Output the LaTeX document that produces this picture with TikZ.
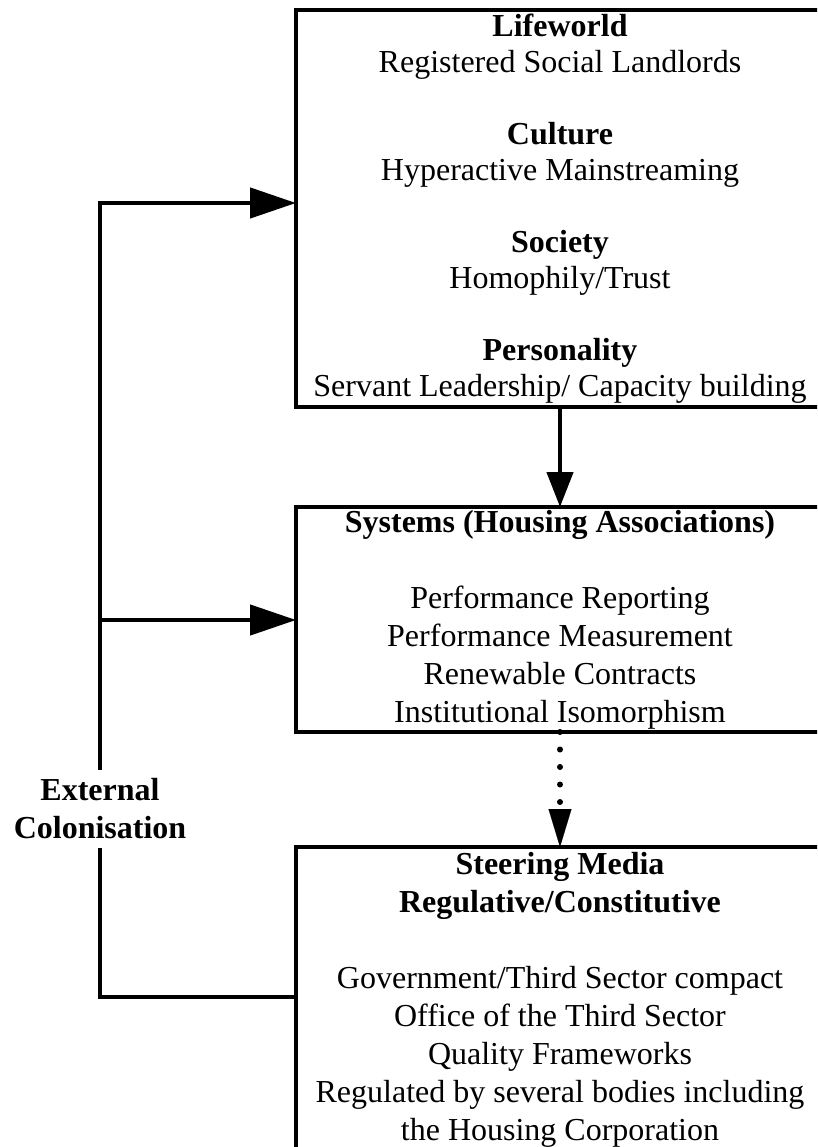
\documentclass[tikz,border=0pt]{standalone}
\usepackage{fontspec}
\setmainfont{Liberation Serif}
\usetikzlibrary{arrows.meta,positioning}

\begin{document}
\begin{tikzpicture}[x=1pt,y=1pt,yscale=-1,
  box/.style={draw, line width=4.5pt, rectangle, minimum width=528pt, align=center, inner sep=0pt, outer sep=0pt},
  link/.style={line width=4.5pt},
  sidetip/.style={-{Triangle[length=46pt,width=30pt]}},
  downtip/.style={-{Triangle[length=35pt,width=26pt]}}]
  %set diagram frame to 817 x 1147
  \useasboundingbox (0,0) rectangle (817,1147);
  \clip (0,0) rectangle (817,1147);

  %Box: Lifeworld
  \node [box, minimum height=397pt, font=\fontsize{32}{36}\selectfont] (lifeworld) at (560,208.5)
    {\textbf{Lifeworld}\\Registered Social Landlords\\[36pt]
     \textbf{Culture}\\Hyperactive Mainstreaming\\[36pt]
     \textbf{Society}\\Homophily/Trust\\[36pt]
     \textbf{Personality}\\Servant Leadership/ Capacity building};
  %Box: Systems
  \node [box, minimum height=225pt, font=\fontsize{32}{38}\selectfont] (systems) at (560,619.5)
    {\textbf{Systems (Housing Associations)}\\[38pt]
     Performance Reporting\\Performance Measurement\\Renewable Contracts\\Institutional Isomorphism};
  %Box: Steering Media
  \node [box, minimum height=305pt, font=\fontsize{32}{38}\selectfont] (steering) at (560,999.5)
    {\textbf{Steering Media}\\\textbf{Regulative/Constitutive}\\[38pt]
     Government/Third Sector compact\\Office of the Third Sector\\Quality Frameworks\\
     Regulated by several bodies including\\the Housing Corporation};

  % Text Node
  \node [font=\bfseries\fontsize{32}{38}\selectfont, align=center, minimum height=78pt, inner sep=0pt] (colon) at (100,809)
    {External\\Colonisation};

  \coordinate (topturn) at (100,203);
  \coordinate (midturn) at (100,620);
  \coordinate (botturn) at (100,997);

  %Straight Lines
  \draw [link, sidetip] (colon.north) -- (topturn) -- (topturn -| lifeworld.west);
  \draw [link, sidetip] (midturn) -- (midturn -| systems.west);
  \draw [link] (colon.south) -- (botturn) -- (botturn -| steering.west);
  \draw [link, downtip] (lifeworld.south) -- (systems.north);
  \draw [line width=6pt, line cap=round, dash pattern=on 0pt off 17.5pt,
         -{Triangle[length=38pt,width=23pt,line width=0.1pt]}] (systems.south) -- (steering.north);

\end{tikzpicture}
\end{document}
